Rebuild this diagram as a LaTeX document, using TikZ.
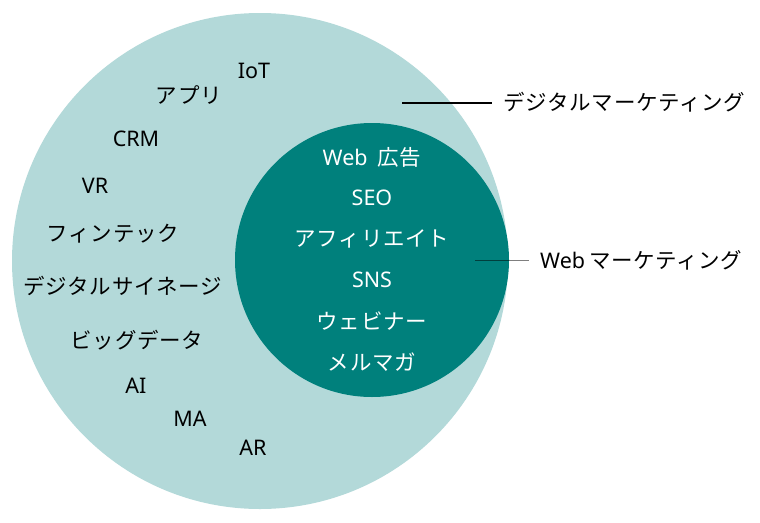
\documentclass[tikz,border=0pt]{standalone}
\usepackage{fontspec}
\setmainfont[LetterSpace=3.5]{Noto Sans CJK JP}
\newfontfamily\latn{Noto Sans}
\definecolor{lightteal}{RGB}{179,217,217}
\definecolor{darkteal}{RGB}{0,128,124}
\begin{document}
\begin{tikzpicture}[x=1pt,y=-1pt,
  lbl/.style={inner sep=0pt, font=\fontsize{21.5}{24}\selectfont, text=black},
  wlbl/.style={lbl, text=white},
  rlbl/.style={lbl, anchor=west},
  leader/.style={line width=1.2pt}
]
\useasboundingbox (0,0) rectangle (760,522);
\node[circle, fill=lightteal, inner sep=0pt, minimum size=496pt] (outer) at (260,261) {};
\node[circle, fill=darkteal, inner sep=0pt, minimum size=274pt] (inner) at (372,260) {};

% outer items
\node[lbl] (iot) at (254,71) {\latn IoT};
\node[lbl] (app) at (189,95) {アプリ};
\node[lbl] (crm) at (136,139) {\latn CRM};
\node[lbl] (vr) at (95,186) {\latn VR};
\node[lbl] (fin) at (113,234) {フィンテック};
\node[lbl] (sig) at (123,286) {デジタルサイネージ};
\node[lbl] (big) at (137,340) {ビッグデータ};
\node[lbl] (ai) at (136,386) {\latn AI};
\node[lbl] (ma) at (190,419) {\latn MA};
\node[lbl] (ar) at (253,448) {\latn AR};

% inner items
\node[wlbl] (ad) at (372,157) {{\latn Web}\hspace{10pt}広告};
\node[wlbl] (seo) at (372,198) {\latn SEO};
\node[wlbl] (aff) at (372,239) {アフィリエイト};
\node[wlbl] (sns) at (372,280) {\latn SNS};
\node[wlbl] (web) at (372,321) {ウェビナー};
\node[wlbl] (mm) at (372,362) {メルマガ};

% right labels
\node[rlbl] (dm) at (503,102) {デジタルマーケティング};
\node[rlbl] (wm) at (540,260) {{\latn Web}\hspace{4pt}マーケティング};

\coordinate (dmstart) at (402,103);
\coordinate (dmend) at (492,103);
\coordinate (wmstart) at (475,260.5);
\coordinate (wmend) at (529,260.5);
\draw[leader] (dmstart) -- (dmend);
\draw[leader, draw opacity=0.5] (wmstart) -- (wmend);
\end{tikzpicture}
\end{document}
